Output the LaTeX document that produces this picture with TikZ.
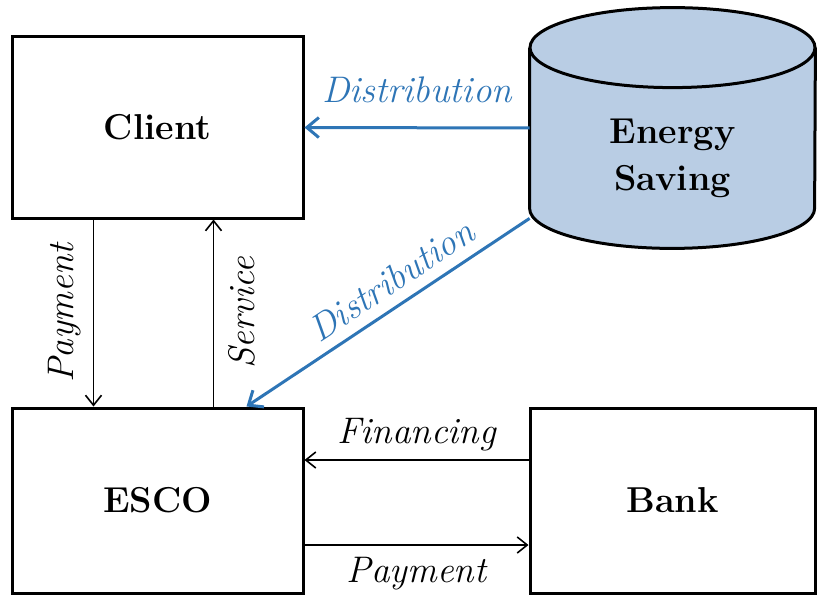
\documentclass[tikz,border=0pt]{standalone}
\usepackage{tikz}
\usetikzlibrary{arrows.meta}
\definecolor{distblue}{RGB}{46,117,182}
\definecolor{savfill}{RGB}{185,205,228}

\begin{document}
\begin{tikzpicture}[x=0.5pt, y=0.5pt, >={Straight Barb[length=5pt,width=8pt]},
  box/.style={draw, line width=1.5pt, inner sep=0pt, font=\fontsize{18}{21}\selectfont\bfseries},
  lbl/.style={font=\fontsize{18.5}{21}\selectfont\itshape},
  flow/.style={->, line width=0.8pt},
  dist/.style={->, distblue, line width=1.5pt, >={Straight Barb[length=6pt,width=10pt]}}]
\useasboundingbox (0,0) rectangle (818,-599);
% boxes
\node[box, minimum width=145.5pt, minimum height=90.5pt] (client) at (157.5,-127.5) {Client};
\node[box, minimum width=145.5pt, minimum height=92.5pt] (esco) at (157.5,-500.5) {ESCO};
\node[box, minimum width=142.5pt, minimum height=92.5pt] (bank) at (672.5,-500.5) {Bank};
% cylinder
\node[minimum width=142.5pt, minimum height=80pt, inner sep=0pt] (saving) at (672.5,-128) {};
\fill[savfill] (saving.north west) -- (saving.south west)
  arc[start angle=180, end angle=360, x radius=71.25pt, y radius=20pt] -- (saving.north east) -- cycle;
\draw[line width=1.5pt] (saving.north west) -- (saving.south west)
  arc[start angle=180, end angle=360, x radius=71.25pt, y radius=20pt] -- (saving.north east);
\filldraw[fill=savfill, line width=1.5pt] (saving.north) ellipse[x radius=71.25pt, y radius=20pt];
\node[align=center, font=\fontsize{18}{23.5}\selectfont\bfseries] (savtext) at (672.5,-158) {Energy\\Saving};
% flows
\draw[dist] (saving.west) -- node[lbl, distblue, above=8.5pt] (distlbl) {Distribution} (client.east);
\draw[dist] ([yshift=-5pt]saving.south west) -- node[lbl, distblue, pos=0.44, above=2pt, sloped] (distlbltwo) {Distribution} ([xshift=-29pt]esco.north east);
\draw[flow] ([xshift=41.5pt]client.south west) -- node[lbl, rotate=90, above=2.5pt] (paylbl) {Payment} ([xshift=41.5pt]esco.north west);
\draw[flow] ([xshift=101.5pt]esco.north west) -- node[lbl, rotate=90, below=3.5pt] (servlbl) {Service} ([xshift=101.5pt]client.south west);
\draw[flow] ([yshift=20.25pt]bank.west) -- node[lbl, above=0.5pt] (finlbl) {Financing} ([yshift=20.25pt]esco.east);
\draw[flow] ([yshift=-22.25pt]esco.east) -- node[lbl, below=2.5pt] (paylbltwo) {Payment} ([yshift=-22.25pt]bank.west);
\end{tikzpicture}
\end{document}
